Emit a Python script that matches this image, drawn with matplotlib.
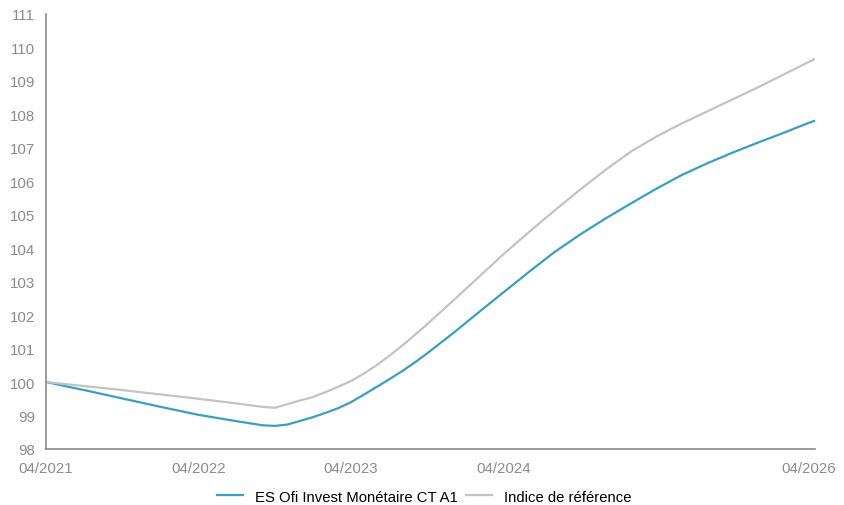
import matplotlib
matplotlib.use("Agg")
import matplotlib.pyplot as plt

# mois depuis 04/2021
mois = [0, 3, 6, 9, 12, 15, 17, 18, 19, 20, 21, 22, 23, 24, 25, 26, 27, 28, 29, 30,
        32, 34, 36, 38, 40, 42, 44, 46, 48, 50, 52, 54, 56, 58, 60, 60.6]

fonds = [100.00, 99.76, 99.51, 99.26, 99.02, 98.83, 98.71, 98.69, 98.73, 98.84,
         98.95, 99.08, 99.22, 99.40, 99.62, 99.85, 100.08, 100.32, 100.58, 100.86,
         101.45, 102.07, 102.68, 103.29, 103.88, 104.40, 104.88, 105.33, 105.77,
         106.18, 106.53, 106.85, 107.15, 107.44, 107.74, 107.82]

indice = [100.00, 99.88, 99.76, 99.63, 99.50, 99.36, 99.26, 99.23, 99.34, 99.45,
          99.55, 99.70, 99.86, 100.03, 100.25, 100.50, 100.78, 101.08, 101.40, 101.73,
          102.42, 103.12, 103.82, 104.48, 105.12, 105.74, 106.33, 106.88, 107.33,
          107.72, 108.08, 108.44, 108.80, 109.18, 109.56, 109.67]

ticks_x = [0, 12, 24, 36, 60]
labels_x = ["04/2021", "04/2022", "04/2023", "04/2024", "04/2026"]
ticks_y = list(range(98, 112))

nom_fonds = "ES Ofi Invest Monétaire CT A1"
nom_indice = "Indice de référence"

plt.rcParams["font.family"] = ["Liberation Sans", "DejaVu Sans"]

fig = plt.figure(figsize=(8.45, 5.06), dpi=100)
ax = fig.add_axes([0.0544, 0.1107, 0.910, 0.860])

ax.plot(mois, fonds, color="#3a9fc2", lw=1.6, label=nom_fonds)
ax.plot(mois, indice, color="#c3c3c3", lw=1.6, label=nom_indice)

ax.set_xlim(0, 60.5)
ax.set_ylim(98, 111)
ax.set_xticks(ticks_x)
ax.set_xticklabels(labels_x)
ax.set_yticks(ticks_y)

for s in ["top", "right"]:
    ax.spines[s].set_visible(False)
for s in ["left", "bottom"]:
    ax.spines[s].set_color("#8a8a8a")
    ax.spines[s].set_linewidth(1.2)

ax.tick_params(axis="both", length=0, colors="#8c8c8c", labelsize=10.8)
ax.tick_params(axis="x", pad=9)
ax.tick_params(axis="y", pad=8)

fig.legend(loc="lower center", bbox_to_anchor=(0.502, 0.0), ncol=2, frameon=False,
           fontsize=10.7, handlelength=1.75, handletextpad=0.8, columnspacing=0.6,
           borderaxespad=0.0, borderpad=0.1)

fig.savefig("out.png", dpi=100)
